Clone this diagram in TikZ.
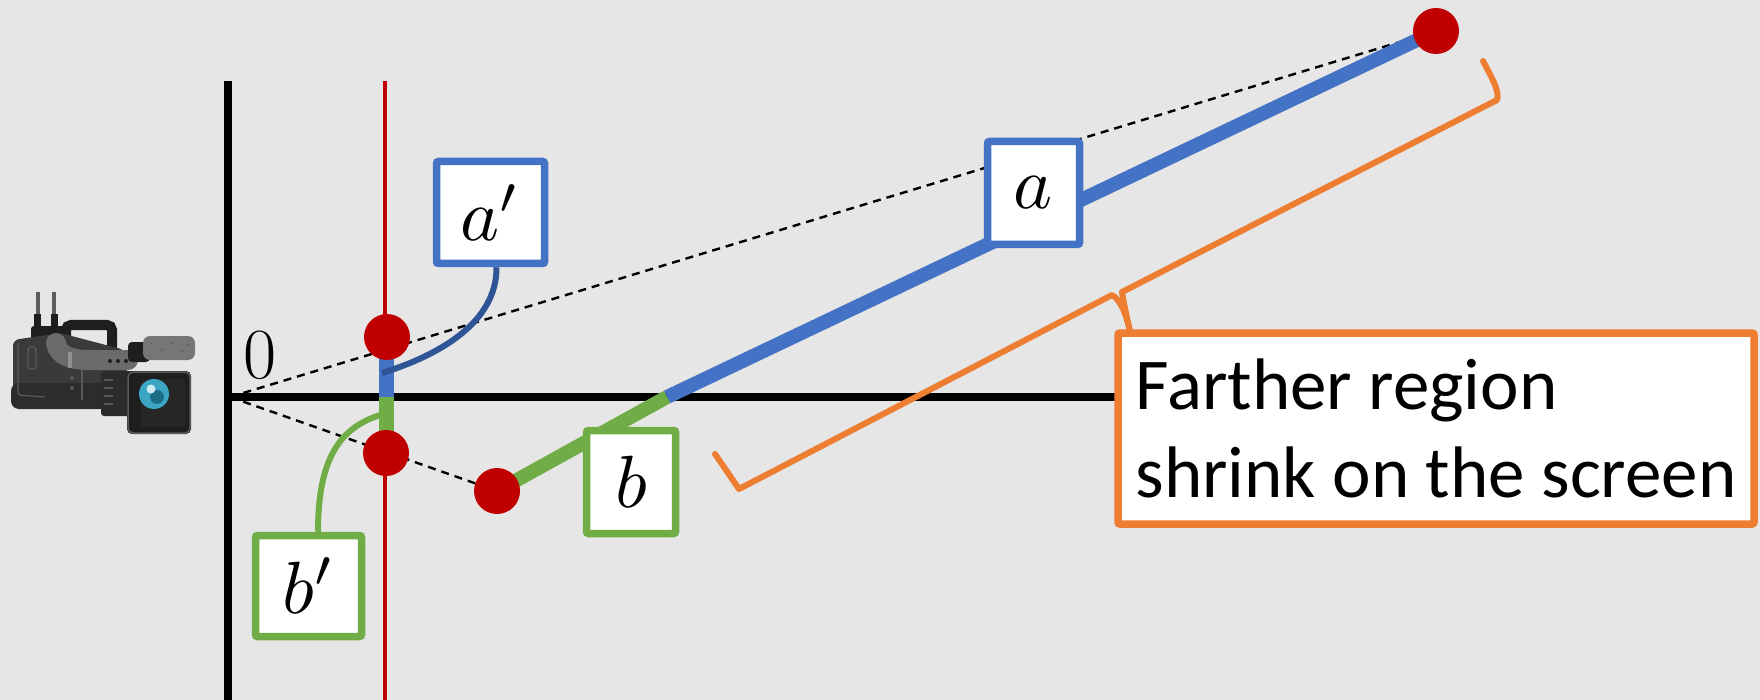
\documentclass[tikz,border=0pt]{standalone}
\usepackage{fontspec}
\newfontfamily\calib{Carlito}
\usetikzlibrary{calc}
\definecolor{bgray}{HTML}{E7E6E6}
\definecolor{pblue}{HTML}{4472C4}
\definecolor{dblue}{HTML}{2F5597}
\definecolor{pgreen}{HTML}{70AD47}
\definecolor{porange}{HTML}{ED7D31}
\definecolor{pred}{HTML}{C00000}
\definecolor{cambody}{HTML}{3A3A3A}
\definecolor{cambase}{HTML}{2C2C2C}
\definecolor{camblack}{HTML}{1E1E1E}
\definecolor{camgrey}{HTML}{5C5C5C}
\definecolor{camtube}{HTML}{6A6A6A}
\definecolor{camline}{HTML}{5A5A5A}
\definecolor{cammic}{HTML}{767676}
\definecolor{cambarrel}{HTML}{2B2B2B}
\definecolor{lensblue}{HTML}{3BA6C4}
\definecolor{lensdark}{HTML}{1D6C86}
% large math label
\newcommand\biglabel[1]{\scalebox{7.4}{$#1$}}
\begin{document}
\begin{tikzpicture}[x=1pt,y=-1pt,
  axisline/.style={black,line width=8pt},
  screenline/.style={pred,line width=4.5pt},
  dashline/.style={black,line width=2.4pt,dash pattern=on 8pt off 6pt},
  projseg/.style={line width=15pt},
  mainseg/.style={line width=14pt},
  dot/.style={circle,fill=pred,inner sep=0pt,minimum size=46pt},
  labelbox/.style={draw,line width=7.5pt,fill=white,rounded corners=2pt,inner sep=0pt},
  textbox/.style={draw=porange,line width=7.5pt,fill=white,rounded corners=2pt,
      minimum width=636pt,minimum height=191pt,inner sep=0pt,align=left,
      font=\calib\fontsize{73}{88}\selectfont},
  leader/.style={line width=6pt},
  brace/.style={porange,line width=6pt,line cap=round,line join=round}]

% background
\fill[bgray] (0,0) rectangle (1760,700);
\useasboundingbox (0,0) rectangle (1760,700);

% key points
\coordinate (O) at (230,397);
\coordinate (ytop) at (228,81);
\coordinate (ybot) at (228,700);
\coordinate (stop) at (385,81);
\coordinate (sbot) at (385,700);
\coordinate (S) at (386,397);
\coordinate (X) at (667,397);
\coordinate (xend) at (1115,397);

% axes and screen
\draw[axisline] (ytop) -- (ybot);
\draw[axisline] (O) -- (xend);
\draw[screenline] (stop) -- (sbot);

% sight lines to the two end points
\coordinate (Ac) at (1436,31);
\coordinate (Bc) at (497,491);
\draw[dashline] (O) -- (Ac);
\draw[dashline] (O) -- (Bc);

% projected lengths on the screen
\draw[projseg,pblue] (S) -- (386,337);
\draw[projseg,pgreen] (S) -- (386,453);

% object segment
\draw[mainseg,pblue] (X) -- (Ac);
\draw[mainseg,pgreen] (Bc) -- (X);

% points
\node[dot] (A) at (Ac) {};
\node[dot] (B) at (Bc) {};
\node[dot] (Ap) at (387,337) {};
\node[dot] (Bp) at (386,453) {};

% brace of the farther region
\coordinate (br1) at (715,454);
\coordinate (br2) at (739,489);
\coordinate (br3) at (1112,295);
\coordinate (brtip) at (1131,336);
\coordinate (br4) at (1122,292);
\coordinate (br5) at (1497,100);
\coordinate (br6) at (1483,61);
\draw[brace] (br1) -- (br2) -- (br3) .. controls (1121,300) and (1127,316) .. (brtip);
\draw[brace] (br6) .. controls (1492,78) and (1500,92) .. (br5) -- (br4)
  .. controls (1124,305) and (1127,318) .. (brtip);

% explanation
\node[textbox] (T) at (1436,428.5) {Farther region\\shrink on the screen};

% labels
\node[labelbox,draw=pblue,minimum width=108pt,minimum height=102pt] (la) at (490.5,212.5) {\biglabel{a'}};
\node[labelbox,draw=pblue,minimum width=92pt,minimum height=103pt] (lA) at (1033.5,193) {\biglabel{a}};
\node[labelbox,draw=pgreen,minimum width=89pt,minimum height=103pt] (lB) at (631,482) {\biglabel{b}};
\node[labelbox,draw=pgreen,minimum width=106pt,minimum height=101pt] (lb) at (308.5,586) {\biglabel{b'}};

% leaders from labels to the projected lengths
\coordinate (ea) at (382,373);
\coordinate (eb) at (380,415);
\draw[leader,dblue] ($(la.south)+(6,0)$) .. controls (497,322) and (440,355) .. (ea);
\draw[leader,pgreen] ($(lb.north)+(9.5,0)$) .. controls (318,458) and (340,428) .. (eb);

% origin label
\node[font=\fontsize{72}{80}\selectfont,inner sep=0pt] (zero) at (260,355) {0};

% video camera
\fill[camgrey] (35.5,292) rectangle (39.5,330);
\fill[camgrey] (52,292) rectangle (56,330);
\fill[camblack] (34,314) rectangle (41,330);
\fill[camblack] (50.5,314) rectangle (57.5,330);
\fill[camblack,rounded corners=3pt] (31,326) rectangle (70,341);
\draw[camblack,line width=10pt,rounded corners=5pt] (66,345) -- (66,325) -- (112,325) -- (112,352);
\fill[cambody,rounded corners=6pt] (13,340) -- (60,333) -- (125,350) -- (130,402) -- (13,398) -- cycle;
\fill[cambase,rounded corners=8pt] (11,383) rectangle (108,409);
\draw[camline,line width=1.2pt,rounded corners=3pt] (28,347) rectangle (36,369);
\draw[camline,line width=1.2pt,rounded corners=3pt] (18,343) -- (18,395) -- (45,397);
\draw[camline,line width=1.2pt,rounded corners=3pt] (82,368) -- (82,400);
\foreach \yy in {378,388} \fill[camline] (72,\yy) circle (2);
\draw[camtube,line width=20pt,line cap=round] (56,343) .. controls (58,356) and (72,360) .. (90,360) -- (128,360);
\draw[cammic!80!white,line width=4pt] (70,352) -- (70,368);
\foreach \xx in {110,118,126} \fill[camblack] (\xx,361) circle (2);
\fill[camblack,rounded corners=4pt] (128,342) rectangle (150,362);
\fill[cammic,rounded corners=7pt] (143,336) rectangle (195,360);
\foreach \xx/\yy in {152/344,162/350,172/343,182/351,188/345} \fill[camgrey] (\xx,\yy) circle (1.2);
\fill[cambarrel,rounded corners=3pt] (101,371) rectangle (133,416);
\foreach \yy in {380,388,396,404} \draw[camline,line width=1.5pt] (104,\yy) -- (113,\yy);
\fill[camblack,rounded corners=5pt] (127,371) rectangle (191,434);
\draw[camline,line width=1.5pt,rounded corners=5pt] (128,372) rectangle (190,433);
\fill[black!85,rounded corners=3pt] (141,379) rectangle (185,427);
\fill[lensblue] (154,394) circle (15);
\fill[lensdark] (157,397) circle (7);
\fill[white!75!lensblue] (151,389) circle (4.5);
\end{tikzpicture}
\end{document}
